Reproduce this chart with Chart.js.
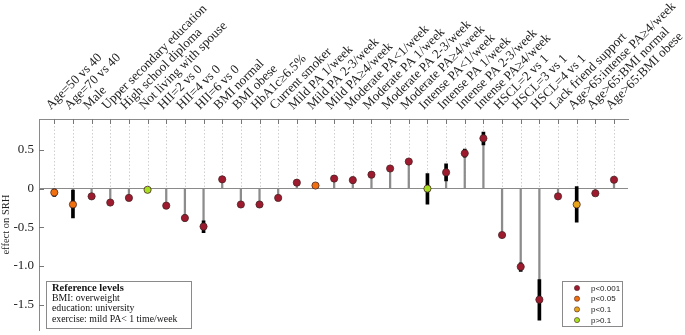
<!DOCTYPE html>
<html lang="en">
<head>
  <meta charset="UTF-8">
  <title>Effect on SRH</title>
  <script src="https://cdn.jsdelivr.net/npm/chart.js@4.4.1/dist/chart.umd.min.js"></script>
  <style>
    html, body { margin: 0; padding: 0; background: #fff; }
    #wrap { width: 685px; height: 335px; }
  </style>
</head>
<body>
  <div id="wrap"><canvas id="chart"></canvas></div>

  <script>
    // data
    const categories = [
      "Age=50 vs 40", "Age=70 vs 40", "Male", "Upper secondary education", "High school diploma",
      "Not living with spouse", "HII=2 vs 0", "HII=4 vs 0", "HII=6 vs 0", "BMI normal", "BMI obese",
      "HbA1c\u22656.5%", "Current smoker", "Mild PA 1/week", "Mild PA 2-3/week", "Mild PA\u22654/week",
      "Moderate PA<1/week", "Moderate PA 1/week", "Moderate PA 2-3/week", "Moderate PA\u22654/week",
      "Intense PA<1/week", "Intense PA 1/week", "Intense PA 2-3/week", "Intense PA\u22654/week",
      "HSCL=2 vs 1", "HSCL=3 vs 1", "HSCL=4 vs 1", "Lack friend support",
      "Age>65:intense PA\u22654/week", "Age>65:BMI normal", "Age>65:BMI obese"
    ];
    const estimates = [-0.05, -0.205, -0.10, -0.18, -0.12, -0.015, -0.22, -0.38, -0.49, 0.12, -0.205,
      -0.205, -0.12, 0.077, 0.04, 0.13, 0.11, 0.18, 0.26, 0.35, 0.0, 0.21, 0.456, 0.65,
      -0.60, -1.01, -1.435, -0.10, -0.205, -0.06, 0.115];
    const ciLow = [-0.10, -0.38, -0.12, -0.21, -0.15, -0.03, -0.25, -0.42, -0.57, 0.09, -0.24,
      -0.24, -0.15, 0.04, 0.02, 0.09, 0.07, 0.15, 0.23, 0.32, -0.20, 0.10, 0.405, 0.565,
      -0.63, -1.07, -1.70, -0.12, -0.435, -0.09, 0.08];
    const ciHigh = [0.0, -0.02, -0.08, -0.15, -0.09, 0.0, -0.19, -0.34, -0.415, 0.15, -0.17,
      -0.17, -0.09, 0.11, 0.06, 0.17, 0.15, 0.21, 0.29, 0.38, 0.196, 0.32, 0.51, 0.73,
      -0.57, -0.96, -1.175, -0.08, 0.025, -0.03, 0.15];
    // 0: p<0.001, 1: p<0.05, 2: p<0.1, 3: p>0.1
    const pClass = [1, 1, 0, 0, 0, 3, 0, 0, 0, 0, 0, 0, 0, 0, 1, 0, 0, 0, 0, 0, 3, 0, 0, 0, 0, 0, 0, 0, 2, 0, 0];
    const pLabels = ["p<0.001", "p<0.05", "p<0.1", "p>0.1"];
    const pColors = ["#9e1a2e", "#f0700f", "#e8a51c", "#a6e020"];
    const yTicks = [-1.5, -1, -0.5, 0, 0.5];
    const refTitle = "Reference levels";
    const refLines = ["BMI: overweight", "education: university", "exercise: mild PA< 1 time/week"];

    const serif = "'Liberation Serif', 'DejaVu Serif', serif";
    const sans = "'Liberation Sans', Arial, sans-serif";

    const xs = categories.map((c, i) => i + 1);

    const pointSets = pLabels.map((lab, k) => ({
      type: 'scatter',
      label: lab,
      order: 0,
      data: xs.filter((x, i) => pClass[i] === k).map(x => ({ x, y: estimates[x - 1] })),
      backgroundColor: pColors[k],
      borderColor: '#4a2626',
      borderWidth: 0.8,
      pointRadius: 3.6
    }));

    const decor = {
      id: 'decor',
      beforeDatasetsDraw(chart) {
        const { ctx, chartArea, scales } = chart;
        const x = scales.x, y = scales.y;
        const y0 = y.getPixelForValue(0);
        ctx.save();
        // dotted guides from top to zero
        ctx.strokeStyle = '#cfcfcf';
        ctx.lineWidth = 1;
        ctx.setLineDash([1.5, 2]);
        xs.forEach(v => {
          const px = Math.round(x.getPixelForValue(v)) + 0.5;
          ctx.beginPath();
          ctx.moveTo(px, chartArea.top);
          ctx.lineTo(px, y0);
          ctx.stroke();
        });
        ctx.setLineDash([]);
        // inward tick marks
        ctx.strokeStyle = '#777';
        xs.forEach(v => {
          const px = Math.round(x.getPixelForValue(v)) + 0.5;
          ctx.beginPath();
          ctx.moveTo(px, chartArea.top);
          ctx.lineTo(px, chartArea.top + 5);
          ctx.stroke();
        });
        yTicks.forEach(v => {
          const py = Math.round(y.getPixelForValue(v)) + 0.5;
          ctx.beginPath();
          ctx.moveTo(chartArea.left, py);
          ctx.lineTo(chartArea.left + 5, py);
          ctx.stroke();
        });
        ctx.restore();
      },
      afterDraw(chart) {
        const { ctx } = chart;
        ctx.save();
        // reference levels box
        ctx.fillStyle = '#fff';
        ctx.fillRect(46, 281, 145, 47);
        ctx.strokeStyle = '#8a8a8a';
        ctx.lineWidth = 1;
        ctx.strokeRect(46.5, 281.5, 145, 47);
        ctx.fillStyle = '#111';
        ctx.textBaseline = 'middle';
        ctx.font = 'bold 10.5px ' + serif;
        ctx.fillText(refTitle, 52, 288);
        ctx.font = '9.8px ' + serif;
        refLines.forEach((t, i) => ctx.fillText(t, 52, 298.5 + i * 10.4));
        // legend box
        ctx.fillStyle = '#fff';
        ctx.fillRect(562, 281, 61, 46);
        ctx.strokeStyle = '#8a8a8a';
        ctx.strokeRect(562.5, 281.5, 60, 45);
        ctx.font = '8px ' + sans;
        pLabels.forEach((lab, k) => {
          const cy = 288 + k * 10.7;
          ctx.beginPath();
          ctx.arc(577, cy, 2.6, 0, Math.PI * 2);
          ctx.fillStyle = pColors[k];
          ctx.fill();
          ctx.strokeStyle = '#4a2626';
          ctx.lineWidth = 0.6;
          ctx.stroke();
          ctx.fillStyle = '#222';
          ctx.fillText(lab, 591, cy + 0.5);
        });
        ctx.restore();
      }
    };

    new Chart(document.getElementById('chart'), {
      type: 'bar',
      data: {
        datasets: [
          ...pointSets,
          {
            label: 'ci',
            order: 1,
            data: xs.map(x => ({ x, y: [ciLow[x - 1], ciHigh[x - 1]] })),
            backgroundColor: '#000',
            barThickness: 3,
            grouped: false
          },
          {
            label: 'stem',
            order: 2,
            data: xs.map(x => ({ x, y: [0, estimates[x - 1]] })),
            backgroundColor: '#8c8c8c',
            barThickness: 1.6,
            grouped: false
          }
        ]
      },
      options: {
        responsive: true,
        maintainAspectRatio: false,
        animation: false,
        layout: { padding: { left: 0, right: 57, top: 0, bottom: 3 } },
        plugins: { legend: { display: false }, tooltip: { enabled: false } },
        scales: {
          x: {
            type: 'linear',
            position: 'top',
            offset: false,
            min: 0.18,
            max: 31.75,
            afterBuildTicks: axis => { axis.ticks = xs.map(v => ({ value: v })); },
            afterFit: axis => { axis.height = 119; axis.paddingLeft = 0; axis.paddingRight = 0; },
            grid: { display: false, offset: false },
            border: { display: true, color: '#8a8a8a', width: 1 },
            ticks: {
              autoSkip: false,
              minRotation: 45,
              maxRotation: 45,
              padding: -2,
              labelOffset: 5,
              color: '#222',
              font: { family: serif, size: 13 },
              callback: v => categories[v - 1]
            }
          },
          y: {
            min: -1.83,
            max: 0.9,
            afterBuildTicks: axis => { axis.ticks = yTicks.map(v => ({ value: v })); },
            afterFit: axis => { axis.width = 39; axis.paddingTop = 0; axis.paddingBottom = 0; },
            grid: {
              drawTicks: false,
              color: c => (c.tick && c.tick.value === 0) ? '#8a8a8a' : 'rgba(0,0,0,0)'
            },
            border: { display: true, color: '#8a8a8a', width: 1 },
            ticks: {
              padding: 5,
              color: '#222',
              font: { family: serif, size: 13 }
            },
            title: {
              display: true,
              text: 'effect on SRH',
              color: '#222',
              font: { family: serif, size: 10.5 },
              padding: 0
            }
          }
        }
      },
      plugins: [decor]
    });
  </script>
</body>
</html>
